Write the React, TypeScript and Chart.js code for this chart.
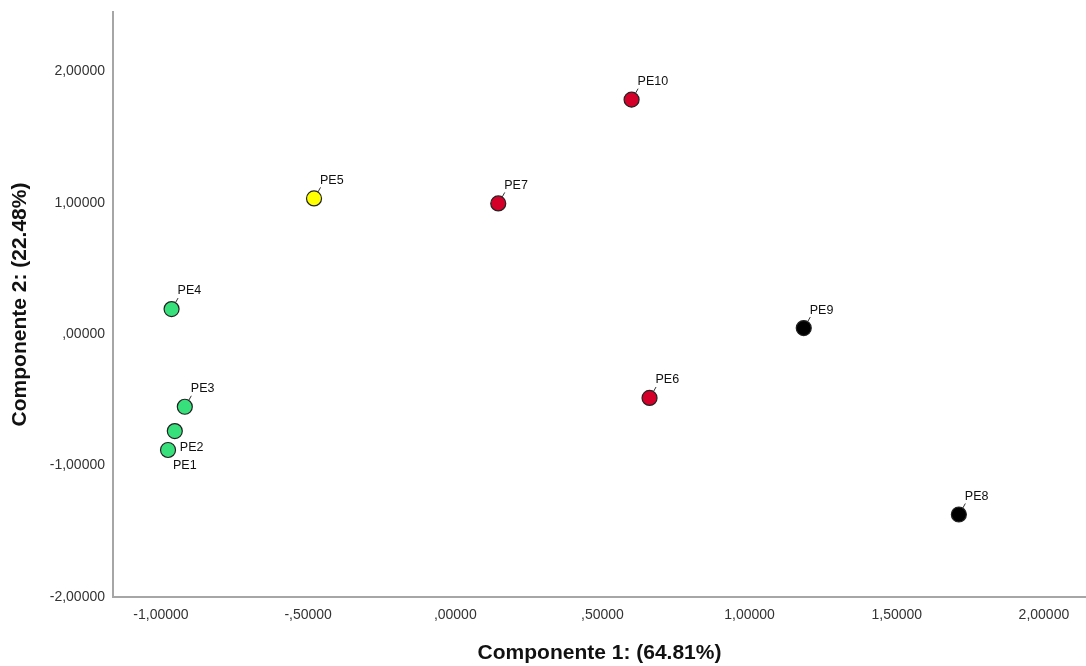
import React, { useEffect, useRef } from "react";
import { Chart, registerables } from "chart.js";

Chart.register(...registerables);

const names = ["PE1", "PE2", "PE3", "PE4", "PE5", "PE6", "PE7", "PE8", "PE9", "PE10"];
const comp1 = [-0.976, -0.953, -0.919, -0.964, -0.48, 0.66, 0.146, 1.711, 1.184, 0.599];
const comp2 = [-0.881, -0.737, -0.552, 0.192, 1.034, -0.485, 0.996, -1.372, 0.047, 1.786];
const groups = ["g", "g", "g", "g", "y", "r", "r", "k", "k", "r"];
const groupColors: Record<string, string> = { g: "#37e07a", y: "#ffff00", r: "#d4002a", k: "#000000" };
const belowLabels = ["PE1", "PE2"];
const xTicks = [-1, -0.5, 0, 0.5, 1, 1.5, 2];
const yTicks = [-2, -1, 0, 1, 2];
const xTitle = "Componente 1: (64.81%)";
const yTitle = "Componente 2: (22.48%)";

function fmt(v: number): string {
  let s = v.toFixed(5).replace(".", ",");
  if (s.startsWith("0,")) s = s.slice(1);
  if (s.startsWith("-0,")) s = "-" + s.slice(2);
  return s;
}

const labelPlugin = {
  id: "pointLabels",
  afterDatasetsDraw(chart: any) {
    const ctx = chart.ctx;
    ctx.save();
    ctx.font = "12.5px 'Liberation Sans', Arial, sans-serif";
    ctx.fillStyle = "#111";
    ctx.strokeStyle = "#333";
    ctx.lineWidth = 1;
    ctx.textAlign = "left";
    ctx.textBaseline = "middle";
    chart.data.datasets.forEach((ds: any, di: number) => {
      const meta = chart.getDatasetMeta(di);
      meta.data.forEach((el: any, i: number) => {
        const name = ds.data[i].name;
        const x = el.x;
        const y = el.y;
        if (belowLabels.includes(name)) {
          ctx.fillText(name, x + 5, y + 16);
        } else {
          ctx.beginPath();
          ctx.moveTo(x + 4, y - 6.5);
          ctx.lineTo(x + 6.5, y - 11);
          ctx.stroke();
          ctx.fillText(name, x + 6, y - 18);
        }
      });
    });
    ctx.restore();
  },
};

export default function App() {
  const ref = useRef<HTMLCanvasElement | null>(null);
  useEffect(() => {
    if (!ref.current) return;
    const order = ["g", "y", "r", "k"];
    const datasets = order.map((g) => ({
      label: g,
      data: names
        .map((n, i) => ({ x: comp1[i], y: comp2[i], name: n, g: groups[i] }))
        .filter((p) => p.g === g),
      backgroundColor: groupColors[g],
      borderColor: "#222",
      borderWidth: 1.2,
      pointRadius: 7.5,
      pointHoverRadius: 7.5,
    }));
    const tickFont = { family: "'Liberation Sans', Arial, sans-serif", size: 14 };
    const titleFont = { family: "'Liberation Sans', Arial, sans-serif", size: 21, weight: "bold" as const };
    const chart = new Chart(ref.current, {
      type: "scatter",
      data: { datasets },
      plugins: [labelPlugin],
      options: {
        animation: false,
        responsive: false,
        devicePixelRatio: 1,
        layout: { autoPadding: false, padding: { top: 12, right: 0, left: 0, bottom: 0 } },
        plugins: { legend: { display: false }, tooltip: { enabled: false } },
        scales: {
          x: {
            type: "linear",
            min: -1.163,
            max: 2.143,
            afterBuildTicks: (s: any) => {
              s.ticks = xTicks.map((v) => ({ value: v }));
            },
            afterFit: (s: any) => {
              s.height = 69;
              s.paddingRight = 0;
              s.paddingLeft = 0;
            },
            grid: { display: false, drawTicks: false },
            border: { display: true, color: "#a6a6a6", width: 2 },
            ticks: {
              font: tickFont,
              color: "#333",
              padding: 10,
              maxRotation: 0,
              autoSkip: false,
              callback: (v: any) => fmt(Number(v)),
            },
            title: {
              display: true,
              text: xTitle,
              font: titleFont,
              color: "#111",
              padding: { top: 0, bottom: 0 },
            },
          },
          y: {
            type: "linear",
            min: -2,
            max: 2.453,
            afterBuildTicks: (s: any) => {
              s.ticks = yTicks.map((v) => ({ value: v }));
            },
            afterFit: (s: any) => {
              s.width = 113;
              s.paddingTop = 0;
              s.paddingBottom = 0;
            },
            grid: { display: false, drawTicks: false },
            border: { display: true, color: "#a6a6a6", width: 2 },
            ticks: {
              font: tickFont,
              color: "#333",
              padding: 8,
              autoSkip: false,
              callback: (v: any) => fmt(Number(v)),
            },
            title: {
              display: true,
              text: yTitle,
              font: titleFont,
              color: "#111",
              padding: { top: 8, bottom: 0 },
            },
          },
        },
      },
    });
    return () => chart.destroy();
  }, []);
  return (
    <div style={{ position: "fixed", left: 0, top: 0, width: 1086, height: 666, background: "#fff" }}>
      <canvas ref={ref} width={1086} height={666} style={{ width: 1086, height: 666 }} />
    </div>
  );
}
